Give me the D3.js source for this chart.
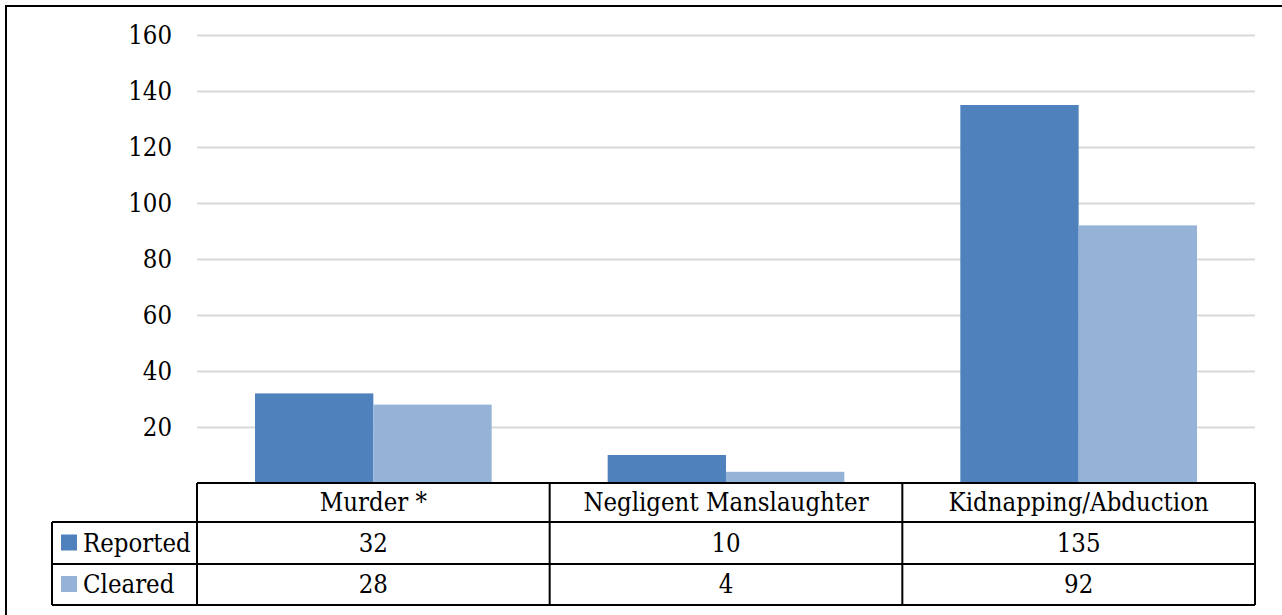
<!DOCTYPE html>
<html>
<head>
<meta charset="utf-8">
<script src="https://cdn.jsdelivr.net/npm/d3@7"></script>
<style>
  body { margin: 0; background: #fff; }
  svg { display: block; }
</style>
</head>
<body>
<div id="chart"></div>
<script>
// data
const categories = ["Murder *", "Negligent Manslaughter", "Kidnapping/Abduction"];
const seriesNames = ["Reported", "Cleared"];
const reported = [32, 10, 135];
const cleared = [28, 4, 92];
const yTicks = [20, 40, 60, 80, 100, 120, 140, 160];
const colors = ["#4f81bd", "#95b3d7"];

const width = 1282;
const height = 615;
const plot = { left: 197, right: 1255, top: 35, bottom: 483 };
const rowH = [483, 522, 564, 605];
const labelLeft = 52;
const fontSize = 25.5;
const serif = "'DejaVu Serif Condensed', 'DejaVu Serif'";

const values = [reported, cleared];

const svg = d3.select("#chart")
    .append("svg")
    .attr("width", width)
    .attr("height", height)
    .style("font-family", serif)
    .style("font-stretch", "condensed");

// outer frame (right/bottom sides fall off the image)
svg.append("rect")
    .attr("x", 6).attr("y", 6)
    .attr("width", width + 20).attr("height", height + 20)
    .attr("fill", "none")
    .attr("stroke", "#000")
    .attr("stroke-width", 2);

const x0 = d3.scaleBand()
    .domain(categories)
    .range([plot.left, plot.right]);

const x1 = d3.scaleBand()
    .domain(seriesNames)
    .range([58, x0.bandwidth() - 58]);

const y = d3.scaleLinear()
    .domain([0, 160])
    .range([plot.bottom, plot.top]);

// gridlines + tick labels
const yAxis = d3.axisLeft(y)
    .tickValues(yTicks)
    .tickSize(-(plot.right - plot.left))
    .tickPadding(25);

svg.append("g")
    .attr("transform", `translate(${plot.left},0)`)
    .call(yAxis)
    .attr("font-family", null)
    .attr("font-size", fontSize)
    .call(g => g.select(".domain").remove())
    .call(g => g.selectAll(".tick line")
        .attr("stroke", "#d9d9d9")
        .attr("stroke-width", 1.8))
    .call(g => g.selectAll(".tick text")
        .attr("fill", "#000"));

// bars
seriesNames.forEach((s, si) => {
    svg.append("g")
        .attr("fill", colors[si])
        .selectAll("rect")
        .data(categories)
        .join("rect")
        .attr("x", d => x0(d) + x1(s))
        .attr("y", (d, i) => y(values[si][i]))
        .attr("width", x1.bandwidth())
        .attr("height", (d, i) => y(0) - y(values[si][i]));
});

// data table
const table = svg.append("g")
    .attr("stroke", "#000")
    .attr("stroke-width", 2);

table.append("line")
    .attr("x1", plot.left).attr("x2", plot.right)
    .attr("y1", rowH[0]).attr("y2", rowH[0]);
rowH.slice(1).forEach(yy => {
    table.append("line")
        .attr("x1", labelLeft).attr("x2", plot.right)
        .attr("y1", yy).attr("y2", yy);
});
table.append("line")
    .attr("x1", labelLeft).attr("x2", labelLeft)
    .attr("y1", rowH[1]).attr("y2", rowH[3]);
categories.forEach(c => {
    table.append("line")
        .attr("x1", x0(c)).attr("x2", x0(c))
        .attr("y1", rowH[0]).attr("y2", rowH[3]);
});
table.append("line")
    .attr("x1", plot.right).attr("x2", plot.right)
    .attr("y1", rowH[0]).attr("y2", rowH[3]);

const txt = svg.append("g")
    .attr("font-size", fontSize)
    .attr("fill", "#000");

txt.selectAll("text.cat")
    .data(categories)
    .join("text")
    .attr("class", "cat")
    .attr("x", d => x0(d) + x0.bandwidth() / 2)
    .attr("y", (rowH[0] + rowH[1]) / 2)
    .attr("dy", "0.35em")
    .attr("text-anchor", "middle")
    .text(d => d);

seriesNames.forEach((s, si) => {
    const cy = (rowH[si + 1] + rowH[si + 2]) / 2;
    svg.append("rect")
        .attr("x", 61)
        .attr("y", cy - 8.5)
        .attr("width", 16)
        .attr("height", 16)
        .attr("fill", colors[si]);
    txt.append("text")
        .attr("x", 83)
        .attr("y", cy)
        .attr("dy", "0.35em")
        .text(s);
    txt.selectAll("text.v" + si)
        .data(categories)
        .join("text")
        .attr("class", "v" + si)
        .attr("x", d => x0(d) + x0.bandwidth() / 2)
        .attr("y", cy)
        .attr("dy", "0.35em")
        .attr("text-anchor", "middle")
        .text((d, i) => values[si][i]);
});
</script>
</body>
</html>
